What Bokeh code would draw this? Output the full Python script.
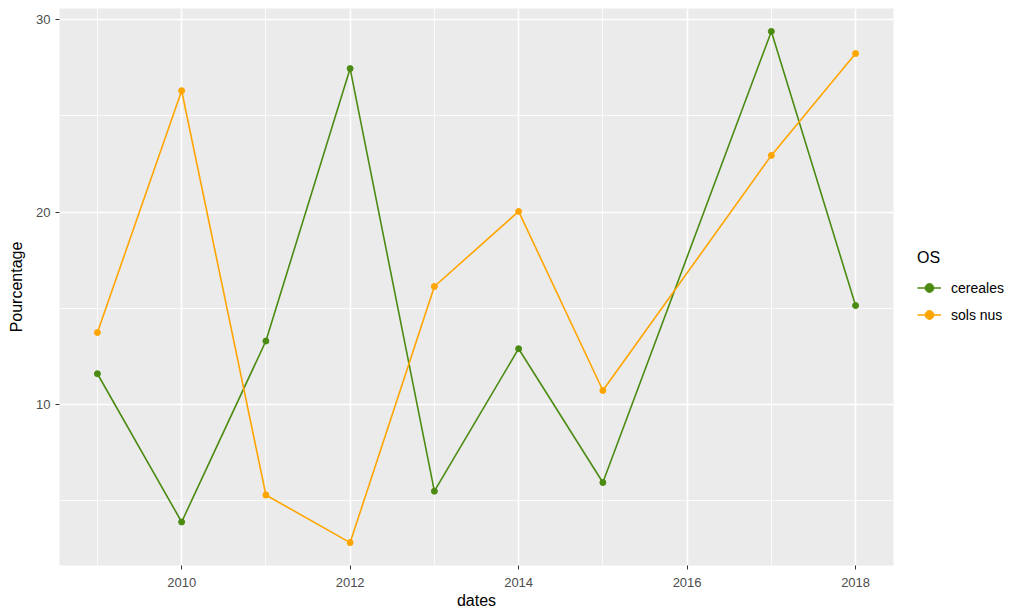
from bokeh.plotting import figure
from bokeh.models import Range1d, SingleIntervalTicker, Legend, LegendItem
from bokeh.embed import file_html
from bokeh.resources import INLINE

years_cereales = [2009, 2010, 2011, 2012, 2013, 2014, 2015, 2017, 2018]
cereales = [11.6, 3.9, 13.3, 27.45, 5.5, 12.9, 5.95, 29.38, 15.14]
years_sols = [2009, 2010, 2011, 2012, 2013, 2014, 2015, 2017, 2018]
sols_nus = [13.74, 26.3, 5.3, 2.83, 16.13, 20.03, 10.73, 22.94, 28.23]

GREEN = "#4B8B12"
ORANGE = "#FFA500"
FONT = "Liberation Sans"

p = figure(frame_width=834, frame_height=557, width=1012, height=613,
           output_backend="svg", toolbar_location=None,
           x_range=Range1d(2008.55, 2018.45), y_range=Range1d(1.64, 30.57),
           min_border_left=59, min_border_right=119, min_border_top=8, min_border_bottom=48)

p.background_fill_color = "#EBEBEB"
p.border_fill_color = "white"
p.outline_line_color = None

p.xaxis.ticker = SingleIntervalTicker(interval=2, num_minor_ticks=2)
p.yaxis.ticker = SingleIntervalTicker(interval=10, num_minor_ticks=2)

for g in (p.xgrid, p.ygrid):
    g.grid_line_color = "white"
    g.grid_line_width = 1.6
    g.minor_grid_line_color = "white"
    g.minor_grid_line_width = 0.8

for ax in (p.xaxis, p.yaxis):
    ax.axis_line_color = None
    ax.major_tick_line_color = "#333333"
    ax.major_tick_out = 4
    ax.major_tick_in = 0
    ax.minor_tick_line_color = None
    ax.major_label_text_color = "#4D4D4D"
    ax.major_label_text_font = FONT
    ax.major_label_text_font_size = "13px"
    ax.axis_label_text_font = FONT
    ax.axis_label_text_font_size = "16px"
    ax.axis_label_text_font_style = "normal"
    ax.axis_label_text_color = "black"

p.xaxis.major_label_standoff = 8
p.yaxis.major_label_standoff = 5
p.xaxis.axis_label = "dates"
p.yaxis.axis_label = "Pourcentage"
p.xaxis.axis_label_standoff = 2
p.yaxis.axis_label_standoff = 8

l1 = p.line(years_cereales, cereales, line_color=GREEN, line_width=1.6)
s1 = p.scatter(years_cereales, cereales, size=6, fill_color=GREEN, line_color=GREEN)
l2 = p.line(years_sols, sols_nus, line_color=ORANGE, line_width=1.6)
s2 = p.scatter(years_sols, sols_nus, size=6, fill_color=ORANGE, line_color=ORANGE)

legend = Legend(items=[LegendItem(label="cereales", renderers=[l1, s1]),
                       LegendItem(label="sols nus", renderers=[l2, s2])],
                title="OS", location="center_left")
legend.title_text_font = FONT
legend.title_text_font_size = "16px"
legend.title_text_font_style = "normal"
legend.title_text_color = "black"
legend.title_standoff = 10
legend.label_text_font = FONT
legend.label_text_font_size = "14px"
legend.label_text_color = "black"
legend.border_line_color = None
legend.background_fill_color = "white"
legend.glyph_width = 24
legend.glyph_height = 22
legend.label_standoff = 10
legend.spacing = 5
legend.margin = 24
legend.padding = 10
p.add_layout(legend, "right")

open("out.html", "w").write(file_html(p, INLINE))
